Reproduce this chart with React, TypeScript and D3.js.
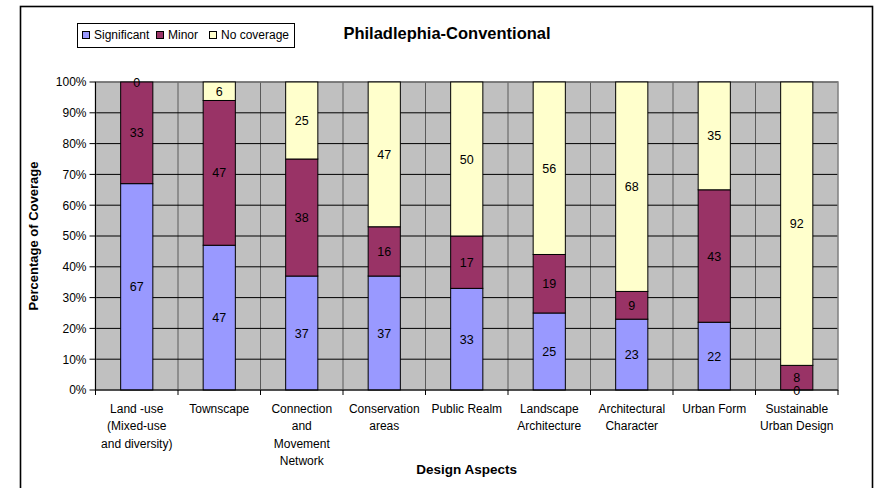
import React from "react";
import * as d3 from "d3";

const categories: string[][] = [
  ["Land -use", "(Mixed-use", "and diversity)"],
  ["Townscape"],
  ["Connection", "and", "Movement", "Network"],
  ["Conservation", "areas"],
  ["Public Realm"],
  ["Landscape", "Architecture"],
  ["Architectural", "Character"],
  ["Urban Form"],
  ["Sustainable", "Urban Design"],
];

const significant = [67, 47, 37, 37, 33, 25, 23, 22, 0];
const minor = [33, 47, 38, 16, 17, 19, 9, 43, 8];
const noCoverage = [0, 6, 25, 47, 50, 56, 68, 35, 92];

const seriesNames = ["Significant", "Minor", "No coverage"];
const seriesColors = ["#9999FF", "#993366", "#FFFFCC"];
const yTicks = [0, 10, 20, 30, 40, 50, 60, 70, 80, 90, 100];

const W = 877;
const H = 488;
const plot = { left: 95.5, right: 838, top: 82, bottom: 390 };
const FONT = "'Liberation Sans', Arial, sans-serif";

export default function App() {
  const keys = categories.map((_, i) => String(i));
  const x = d3.scaleBand<string>().domain(keys).range([plot.left, plot.right]).paddingInner(0).paddingOuter(0);
  const y = d3.scaleLinear().domain([0, 100]).range([plot.bottom, plot.top]);
  const barW = x.bandwidth() * 0.39;

  const rows = categories.map((_, i) => ({
    key: String(i),
    s0: significant[i],
    s1: minor[i],
    s2: noCoverage[i],
  }));
  const stack = d3.stack<any>().keys(["s0", "s1", "s2"]);
  const layers = stack(rows);

  const boundaries = d3.range(categories.length + 1).map((i) => plot.left + i * x.bandwidth());

  // legend layout
  const legendItems = [
    { name: seriesNames[0], x: 82 },
    { name: seriesNames[1], x: 156 },
    { name: seriesNames[2], x: 209 },
  ];

  return (
    <svg
      width={W}
      height={H}
      style={{ position: "absolute", left: 0, top: 0, background: "#fff" }}
      fontFamily={FONT}
    >
      {/* chart frame */}
      <rect x={20.5} y={6.5} width={852} height={520} fill="#fff" stroke="#000" strokeWidth={1.6} />

      {/* plot background */}
      <rect
        x={plot.left}
        y={plot.top}
        width={plot.right - plot.left}
        height={plot.bottom - plot.top}
        fill="#C0C0C0"
      />

      {/* vertical category dividers */}
      {boundaries.slice(1, -1).map((bx, i) => (
        <line key={"v" + i} x1={bx} x2={bx} y1={plot.top} y2={plot.bottom} stroke="#5a5a5a" strokeWidth={1} />
      ))}

      {/* horizontal gridlines */}
      {yTicks.slice(1).map((t) => (
        <line key={"h" + t} x1={plot.left} x2={plot.right} y1={y(t)} y2={y(t)} stroke="#000" strokeWidth={1} />
      ))}

      {/* plot border */}
      <rect
        x={plot.left}
        y={plot.top}
        width={plot.right - plot.left}
        height={plot.bottom - plot.top}
        fill="none"
        stroke="#808080"
        strokeWidth={1.5}
      />

      {/* bars */}
      {layers.map((layer, li) =>
        layer.map((d, i) => {
          const cx = (x(String(i)) as number) + x.bandwidth() / 2;
          const y0 = y(d[0]);
          const y1 = y(d[1]);
          return (
            <rect
              key={li + "-" + i}
              x={cx - barW / 2}
              y={y1}
              width={barW}
              height={Math.max(0, y0 - y1)}
              fill={seriesColors[li]}
              stroke="#000"
              strokeWidth={1}
            />
          );
        })
      )}

      {/* bar value labels */}
      {layers.map((layer, li) =>
        layer.map((d, i) => {
          const cx = (x(String(i)) as number) + x.bandwidth() / 2;
          const cy = (y(d[0]) + y(d[1])) / 2;
          const v = d[1] - d[0];
          return (
            <text
              key={"l" + li + "-" + i}
              x={cx}
              y={cy}
              dy="0.36em"
              textAnchor="middle"
              fontSize={12.5}
              fill="#000"
            >
              {v}
            </text>
          );
        })
      )}

      {/* y axis */}
      <line x1={plot.left} x2={plot.left} y1={plot.top} y2={plot.bottom} stroke="#000" strokeWidth={1} />
      {yTicks.map((t) => (
        <g key={"yt" + t}>
          <line x1={plot.left - 6} x2={plot.left} y1={y(t)} y2={y(t)} stroke="#000" strokeWidth={1} />
          <text x={86.5} y={y(t)} dy="0.36em" textAnchor="end" fontSize={12}>
            {t + "%"}
          </text>
        </g>
      ))}

      {/* x axis */}
      <line x1={plot.left} x2={plot.right} y1={plot.bottom} y2={plot.bottom} stroke="#000" strokeWidth={1} />
      {boundaries.map((bx, i) => (
        <line key={"xt" + i} x1={bx} x2={bx} y1={plot.bottom} y2={plot.bottom + 5} stroke="#000" strokeWidth={1} />
      ))}
      {categories.map((lines, i) => {
        const cx = (x(String(i)) as number) + x.bandwidth() / 2;
        return (
          <text key={"xl" + i} x={cx} y={413} textAnchor="middle" fontSize={12}>
            {lines.map((ln, j) => (
              <tspan key={j} x={cx} dy={j === 0 ? 0 : 17.3}>
                {ln}
              </tspan>
            ))}
          </text>
        );
      })}

      {/* axis titles */}
      <text x={(plot.left + plot.right) / 2} y={474} textAnchor="middle" fontSize={13.5} fontWeight="bold">
        Design Aspects
      </text>
      <text
        transform={`translate(38, ${(plot.top + plot.bottom) / 2}) rotate(-90)`}
        textAnchor="middle"
        fontSize={13}
        fontWeight="bold"
      >
        Percentage of Coverage
      </text>

      {/* title */}
      <text x={447} y={39} textAnchor="middle" fontSize={16.5} fontWeight="bold">
        Philadlephia-Conventional
      </text>

      {/* legend */}
      <rect x={77.5} y={23.5} width={217} height={24} fill="#fff" stroke="#000" strokeWidth={1} />
      {legendItems.map((it, i) => (
        <g key={"lg" + i}>
          <rect x={it.x + 0.5} y={31.5} width={7} height={7} fill={seriesColors[i]} stroke="#000" strokeWidth={1} />
          <text x={it.x + 12} y={35} dy="0.36em" fontSize={12}>
            {it.name}
          </text>
        </g>
      ))}
    </svg>
  );
}
